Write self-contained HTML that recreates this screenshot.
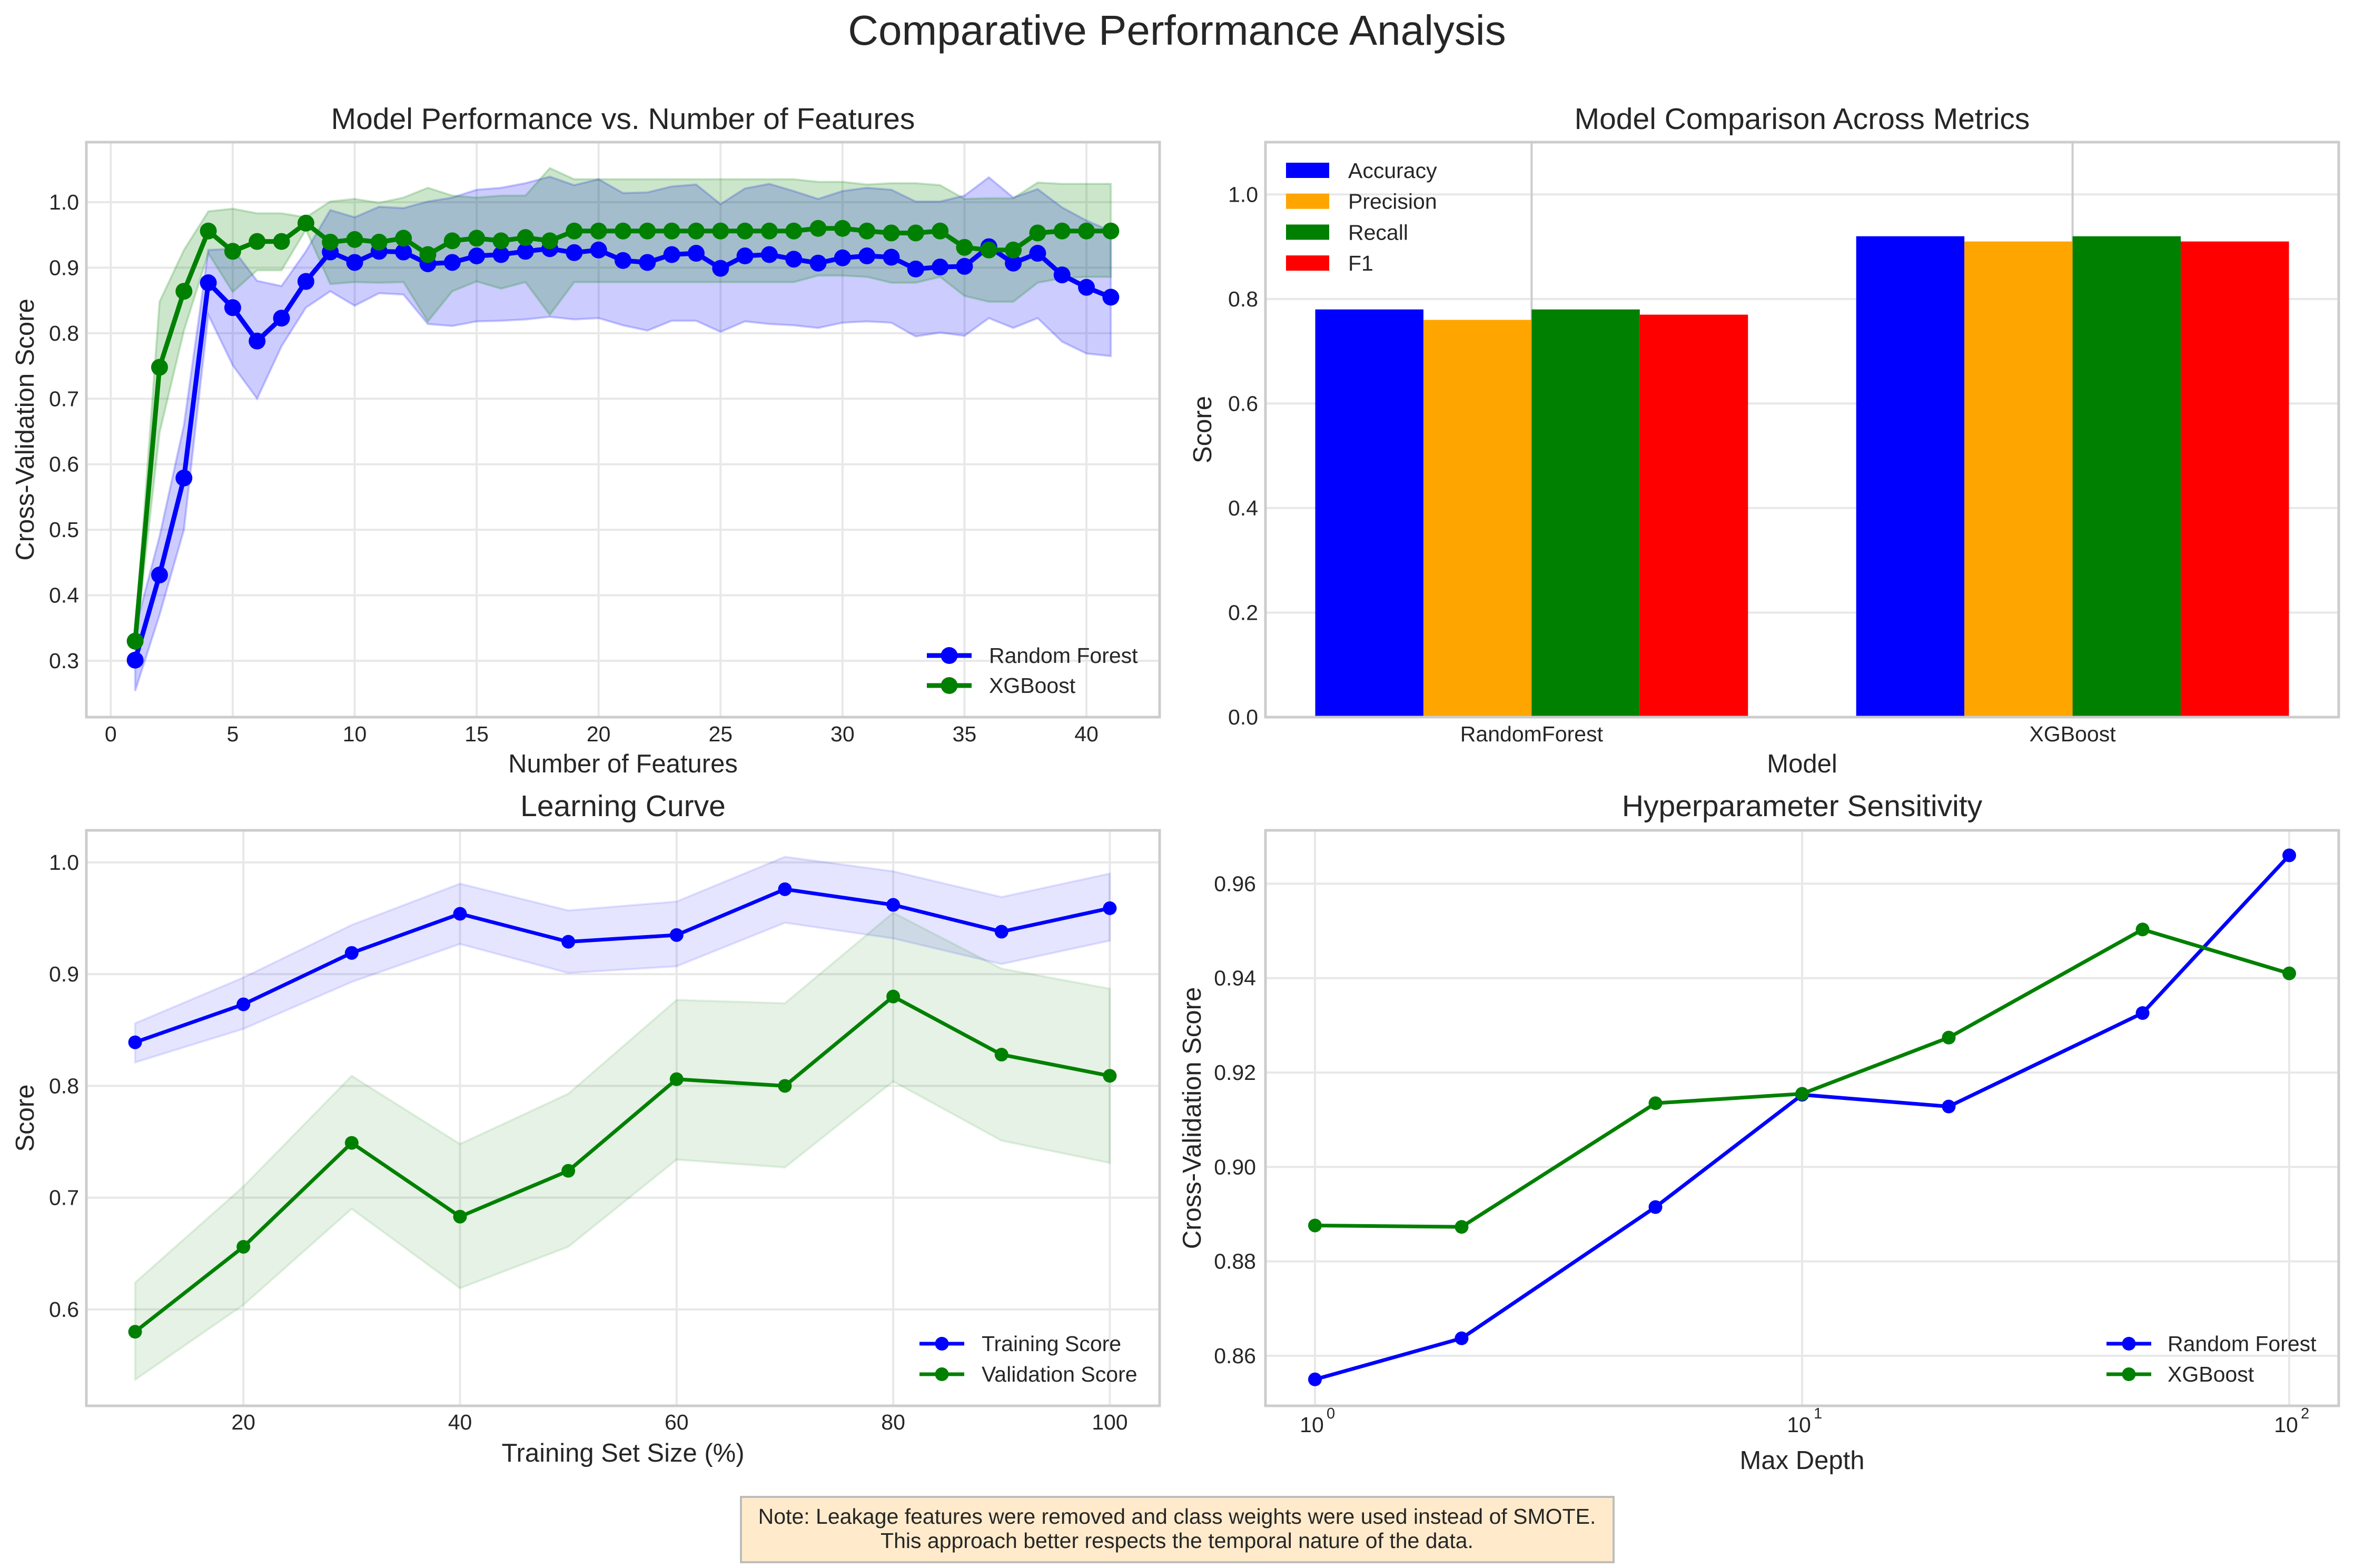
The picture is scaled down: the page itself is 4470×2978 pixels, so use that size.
<!DOCTYPE html>
<html><head><meta charset="utf-8">
<style>
html,body{margin:0;padding:0;background:#fff;}
svg{display:block;font-family:"Liberation Sans",Arial,sans-serif;}
</style></head>
<body>
<svg id="fig" xmlns="http://www.w3.org/2000/svg" width="4470" height="2978" viewBox="0 0 4470 2978">
<rect x="0" y="0" width="4470" height="2978" fill="#fff"/>
<text x="2235" y="85" text-anchor="middle" font-size="80" fill="#262626">Comparative Performance Analysis</text>
<g>
<rect x="1407" y="2843" width="1657" height="124" fill="#ffebcc" stroke="#bdbdbd" stroke-width="4"/>
<text x="2235" y="2894" text-anchor="middle" font-size="41" fill="#262626">Note: Leakage features were removed and class weights were used instead of SMOTE.</text>
<text x="2235" y="2940" text-anchor="middle" font-size="41" fill="#262626">This approach better respects the temporal nature of the data.</text>
</g>
</svg>
<script>
// ---------- Data: features chart ----------
const featCounts=[1,2,3,4,5,6,7,8,9,10,11,12,13,14,15,16,17,18,19,20,21,22,23,24,25,26,27,28,29,30,31,32,33,34,35,36,37,38,39,40,41];
const rfFeatMean=[0.301,0.431,0.579,0.877,0.839,0.788,0.823,0.879,0.924,0.908,0.925,0.924,0.906,0.908,0.918,0.920,0.925,0.929,0.923,0.927,0.911,0.908,0.920,0.922,0.899,0.918,0.920,0.913,0.907,0.915,0.918,0.916,0.898,0.901,0.902,0.932,0.907,0.922,0.889,0.870,0.855];
const rfFeatUpper=[0.348,0.49,0.66,0.927,0.929,0.880,0.872,0.925,0.988,0.977,0.993,0.991,1.001,1.007,1.019,1.022,1.029,1.039,1.026,1.035,1.014,1.015,1.024,1.027,0.997,1.021,1.028,1.017,1.005,1.017,1.022,1.019,1.001,1.001,1.010,1.038,1.007,1.020,0.992,0.972,0.956];
const rfFeatLower=[0.254,0.37,0.50,0.828,0.751,0.700,0.780,0.839,0.864,0.842,0.861,0.859,0.814,0.811,0.818,0.819,0.821,0.825,0.821,0.823,0.812,0.804,0.819,0.819,0.802,0.818,0.814,0.812,0.808,0.816,0.818,0.816,0.795,0.801,0.796,0.823,0.808,0.823,0.787,0.769,0.765];
const xgbFeatMean=[0.330,0.748,0.864,0.956,0.925,0.940,0.940,0.968,0.939,0.943,0.939,0.945,0.920,0.941,0.945,0.941,0.946,0.941,0.956,0.956,0.956,0.956,0.956,0.956,0.956,0.956,0.956,0.956,0.960,0.960,0.956,0.953,0.953,0.956,0.931,0.927,0.927,0.953,0.956,0.956,0.956];
const xgbFeatUpper=[0.340,0.848,0.927,0.986,0.990,0.983,0.983,0.977,1.001,1.005,0.999,1.007,1.022,1.010,1.007,1.010,1.010,1.052,1.035,1.035,1.035,1.035,1.035,1.035,1.035,1.035,1.035,1.035,1.031,1.031,1.027,1.029,1.029,1.026,1.005,1.006,1.006,1.030,1.028,1.028,1.028];
const xgbFeatLower=[0.320,0.648,0.804,0.922,0.863,0.896,0.896,0.958,0.875,0.878,0.877,0.878,0.818,0.864,0.879,0.868,0.878,0.828,0.878,0.878,0.878,0.878,0.878,0.878,0.878,0.878,0.878,0.878,0.888,0.888,0.886,0.877,0.877,0.886,0.857,0.848,0.848,0.877,0.884,0.886,0.886];
const featXTicks=[0,5,10,15,20,25,30,35,40];
const featYTicks=[0.3,0.4,0.5,0.6,0.7,0.8,0.9,1.0];
// ---------- Data: bar chart ----------
const barModels=["RandomForest","XGBoost"];
const barMetrics=["Accuracy","Precision","Recall","F1"];
const accuracyVals=[0.78,0.92];
const precisionVals=[0.76,0.91];
const recallVals=[0.78,0.92];
const f1Vals=[0.77,0.91];
const barYTicks=[0.0,0.2,0.4,0.6,0.8,1.0];
// ---------- Data: learning curve ----------
const trainSizes=[10,20,30,40,50,60,70,80,90,100];
const trainMean=[0.839,0.873,0.919,0.954,0.929,0.935,0.976,0.962,0.938,0.959];
const trainUpper=[0.856,0.897,0.944,0.981,0.957,0.965,1.005,0.992,0.969,0.990];
const trainLower=[0.821,0.851,0.893,0.927,0.901,0.907,0.946,0.932,0.909,0.930];
const valMean=[0.580,0.656,0.749,0.683,0.724,0.806,0.800,0.880,0.828,0.809];
const valUpper=[0.624,0.710,0.809,0.748,0.793,0.877,0.874,0.955,0.905,0.887];
const valLower=[0.537,0.604,0.690,0.619,0.656,0.734,0.727,0.804,0.751,0.731];
const lcXTicks=[20,40,60,80,100];
const lcYTicks=[0.6,0.7,0.8,0.9,1.0];
// ---------- Data: hyperparameter ----------
const depths=[1,2,5,10,20,50,100];
const rfDepthScore=[0.855,0.8637,0.8915,0.9153,0.9128,0.9326,0.966];
const xgbDepthScore=[0.8876,0.8873,0.9135,0.9155,0.9274,0.9503,0.941];
const hpXTickExp=[0,1,2];
const hpYTicks=[0.86,0.88,0.90,0.92,0.94,0.96];

const NS="http://www.w3.org/2000/svg";
const svg=document.getElementById('fig');
function el(tag,attrs,parent){const e=document.createElementNS(NS,tag);for(const k in attrs)e.setAttribute(k,attrs[k]);(parent||svg).appendChild(e);return e;}
const TXT="#262626",GRID="#e8e8e8";

function makeAxes(name,box,xd,yd,logx){
  const g=el('g',{});
  
  
  const sx=v=>{const t=logx?Math.log10(v):v;return box.x+(t-xd[0])/(xd[1]-xd[0])*box.w;};
  const sy=v=>box.y+box.h-(v-yd[0])/(yd[1]-yd[0])*box.h;
  return {g,sx,sy,box};
}
function frame(ax){
  const r=el('rect',{x:ax.box.x,y:ax.box.y,width:ax.box.w,height:ax.box.h,fill:'none',stroke:'#cccccc','stroke-width':5},ax.g);
  
  
}
function yGrid(ax,ticks,fmt,lx){
  ticks.forEach(t=>{const y=ax.sy(t);
    el('line',{x1:ax.box.x,x2:ax.box.x+ax.box.w,y1:y,y2:y,stroke:GRID,'stroke-width':4},ax.g);
    const tx=el('text',{x:lx,y:y+14,'text-anchor':'end','font-size':41,fill:TXT},ax.g);
    
    
    tx.textContent=fmt(t);});
}
function xGrid(ax,ticks,labels,ly,col){
  ticks.forEach((t,i)=>{const x=ax.sx(t);
    el('line',{x1:x,x2:x,y1:ax.box.y,y2:ax.box.y+ax.box.h,stroke:col||GRID,'stroke-width':4},ax.g);
    if(labels){const tx=el('text',{x:x,y:ly,'text-anchor':'middle','font-size':41,fill:TXT},ax.g);
    
    
    tx.textContent=labels[i];}});
}
function labels(ax,title,ty,xl,xly,yl,ylx){
  const a=el('text',{x:ax.box.x+ax.box.w/2,y:ty,'text-anchor':'middle','font-size':57,fill:TXT},ax.g);
  
  
  a.textContent=title;
  const b=el('text',{x:ax.box.x+ax.box.w/2,y:xly,'text-anchor':'middle','font-size':49,fill:TXT},ax.g);
  
  
  b.textContent=xl;
  const cy=ax.box.y+ax.box.h/2;
  const c=el('text',{x:ylx,y:cy,'text-anchor':'middle','font-size':49,fill:TXT,transform:`rotate(-90 ${ylx} ${cy})`},ax.g);
  
  
  c.textContent=yl;
}
function band(ax,xs,up,lo,color,name,op){
  let d='M'+xs.map((x,i)=>ax.sx(x)+','+ax.sy(up[i])).join('L');
  d+='L'+xs.map((x,i)=>[x,i]).reverse().map(([x,i])=>ax.sx(x)+','+ax.sy(lo[i])).join('L')+'Z';
  const p=el('path',{d:d,fill:color,'fill-opacity':op,stroke:color,'stroke-opacity':op,'stroke-width':4},ax.g);
  
  
}
function series(ax,xs,ys,color,lw,r,name){
  const p=el('polyline',{points:xs.map((x,i)=>ax.sx(x)+','+ax.sy(ys[i])).join(' '),fill:'none',stroke:color,'stroke-width':lw,'stroke-linejoin':'round'},ax.g);
  
  
  xs.forEach((x,i)=>{const c=el('circle',{cx:ax.sx(x),cy:ax.sy(ys[i]),r:r,fill:color},ax.g);
    
    });
}
function lineLegend(ax,entries,x1,x2,tx,ys,lw,r){
  entries.forEach((e,i)=>{
    const g=el('g',{},ax.g);
    
    
    el('line',{x1:x1,x2:x2,y1:ys[i],y2:ys[i],stroke:e[1],'stroke-width':lw},g);
    el('circle',{cx:(x1+x2)/2,cy:ys[i],r:r,fill:e[1]},g);
    const t=el('text',{x:tx,y:ys[i]+14,'font-size':41,fill:TXT},g);t.textContent=e[0];
  });
}

// ----- Top-left -----
(function(){
  const ax=makeAxes('features-chart',{x:164,y:270,w:2038,h:1092},[-1.0,43.0],[0.214,1.0916],false);
  yGrid(ax,featYTicks,v=>v.toFixed(1),150);
  xGrid(ax,featXTicks,featXTicks.map(String),1408);
  band(ax,featCounts,rfFeatUpper,rfFeatLower,'#0000ff','rf-feature-band',0.2);
  band(ax,featCounts,xgbFeatUpper,xgbFeatLower,'#008000','xgb-feature-band',0.2);
  series(ax,featCounts,rfFeatMean,'#0000ff',9,16,'rf-feature');
  series(ax,featCounts,xgbFeatMean,'#008000',9,16,'xgb-feature');
  frame(ax);
  labels(ax,'Model Performance vs. Number of Features',245,'Number of Features',1467,'Cross-Validation Score',64);
  lineLegend(ax,[['Random Forest','#0000ff'],['XGBoost','#008000']],1760,1845,1878,[1245,1302],9,16);
})();

// ----- Top-right -----
(function(){
  const ax=makeAxes('metrics-bar-chart',{x:2403,y:270,w:2038,h:1092},[-0.492,1.492],[0,1.1],false);
  yGrid(ax,barYTicks,v=>v.toFixed(1),2389);
  xGrid(ax,[0,1],barModels,1408,'#cccccc');
  const vals=[accuracyVals,precisionVals,recallVals,f1Vals];
  const cols=['#0000ff','#ffa500','#008000','#ff0000'];
  const bw=0.2;
  barModels.forEach((m,gi)=>{
    vals.forEach((arr,mi)=>{
      const x0=ax.sx(gi-0.4+mi*bw),x1=ax.sx(gi-0.4+(mi+1)*bw);
      const r=el('rect',{x:x0,y:ax.sy(arr[gi]),width:x1-x0,height:ax.sy(0)-ax.sy(arr[gi]),fill:cols[mi]},ax.g);
      
      
    });
  });
  frame(ax);
  labels(ax,'Model Comparison Across Metrics',245,'Model',1467,'Score',2300);
  barMetrics.forEach((m,i)=>{
    const g=el('g',{},ax.g);
    
    
    const y=324+i*58.7;
    el('rect',{x:2442,y:y-15,width:82,height:29,fill:cols[i]},g);
    const t=el('text',{x:2560,y:y+14,'font-size':41,fill:TXT},g);t.textContent=m;
  });
})();

// ----- Bottom-left -----
(function(){
  const ax=makeAxes('learning-curve-chart',{x:164,y:1577,w:2038,h:1093},[5.5,104.6],[0.5137,1.0287],false);
  yGrid(ax,lcYTicks,v=>v.toFixed(1),150);
  xGrid(ax,lcXTicks,lcXTicks.map(String),2715);
  band(ax,trainSizes,trainUpper,trainLower,'#0000ff','training-band',0.1);
  band(ax,trainSizes,valUpper,valLower,'#008000','validation-band',0.1);
  series(ax,trainSizes,trainMean,'#0000ff',7,13,'training-score');
  series(ax,trainSizes,valMean,'#008000',7,13,'validation-score');
  frame(ax);
  labels(ax,'Learning Curve',1550,'Training Set Size (%)',2776,'Score',64);
  lineLegend(ax,[['Training Score','#0000ff'],['Validation Score','#008000']],1746,1831,1864,[2552,2610],7,13);
})();

// ----- Bottom-right -----
(function(){
  const ax=makeAxes('hyperparameter-chart',{x:2403,y:1577,w:2038,h:1093},[-0.1016,2.1016],[0.8494,0.9713],true);
  yGrid(ax,hpYTicks,v=>v.toFixed(2),2385);
  hpXTickExp.forEach(e=>{const x=ax.sx(Math.pow(10,e));
    el('line',{x1:x,x2:x,y1:ax.box.y,y2:ax.box.y+ax.box.h,stroke:GRID,'stroke-width':4},ax.g);
    const t=el('text',{x:x-6,y:2720,'text-anchor':'middle','font-size':41,fill:TXT},ax.g);
    
    
    t.textContent='10';
    const s=el('text',{x:x+22,y:2694,'font-size':29,fill:TXT},ax.g);s.textContent=String(e);
  });
  series(ax,depths,rfDepthScore,'#0000ff',7,13,'rf-depth');
  series(ax,depths,xgbDepthScore,'#008000',7,13,'xgb-depth');
  frame(ax);
  labels(ax,'Hyperparameter Sensitivity',1550,'Max Depth',2790,'Cross-Validation Score',2280);
  lineLegend(ax,[['Random Forest','#0000ff'],['XGBoost','#008000']],4000,4085,4116,[2552,2610],7,13);
})();
</script>
</body></html>
